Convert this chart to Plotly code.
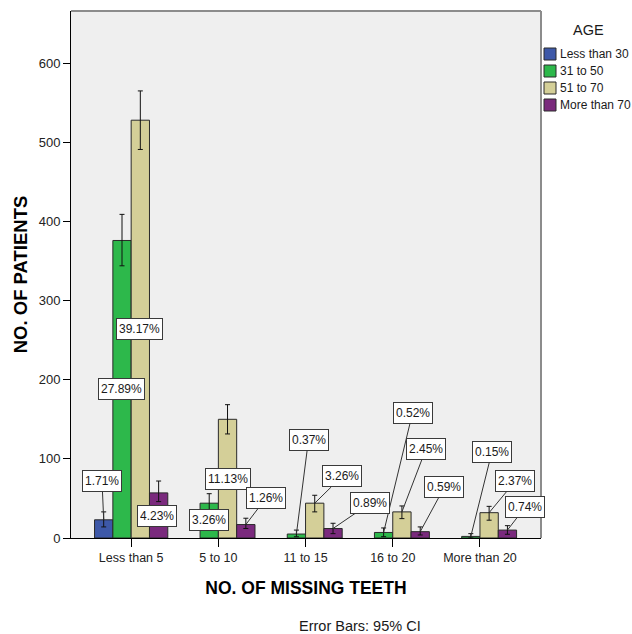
import plotly.graph_objects as go

# ---------------- data ----------------
categories = ["Less than 5", "5 to 10", "11 to 15", "16 to 20", "More than 20"]
age_groups = ["Less than 30", "31 to 50", "51 to 70", "More than 70"]

less_than_30 = [23, None, None, None, None]
age_31_50 = [376, 44, 5, 7, 2]
age_51_70 = [528, 150, 44, 33, 32]
more_than_70 = [57, 17, 12, 8, 10]

# 95% CI half-widths (upper, lower)
ci_up_lt30 = [10, None, None, None, None]
ci_dn_lt30 = [9, None, None, None, None]
ci_up_31_50 = [33, 12, 5, 5.7, 3.5]
ci_dn_31_50 = [32, 12, 3.4, 5.3, 2]
ci_up_51_70 = [37, 18.5, 10, 7.5, 8]
ci_dn_51_70 = [37, 18.5, 11, 8.5, 9.5]
ci_up_gt70 = [15, 8, 6.6, 6, 5.6]
ci_dn_gt70 = [11, 5, 6.5, 4.2, 5.3]

y_ticks = [0, 100, 200, 300, 400, 500, 600]

series_values = [less_than_30, age_31_50, age_51_70, more_than_70]
series_up = [ci_up_lt30, ci_up_31_50, ci_up_51_70, ci_up_gt70]
series_dn = [ci_dn_lt30, ci_dn_31_50, ci_dn_51_70, ci_dn_gt70]

# ---------------- style / layout ----------------
colors = ["#3D58A8", "#2DB84B", "#D4CF98", "#7A2A7D"]
FONT = "Liberation Sans, Arial, sans-serif"
BARGAP = 0.16

# label box placement: pixel offset of box centre from bar top, and leader flag
label_place = [
    [(-1.7, -38.8, True), None, None, None, None],
    [(-1, 148.4, False), (0, 16.8, False), (12.1, -94.5, True), (28.9, -119.5, True), (21.2, -84.9, True)],
    [(-0.4, 208.6, False), (0.4, 59.6, False), (27.2, -26.7, True), (24, -62.9, True), (26.3, -31.7, True)],
    [(-1.2, 22.6, False), (20.6, -27, True), (37.4, -25.5, True), (24.2, -44.7, True), (17.5, -22.6, True)],
]

total = sum(v for s in series_values for v in s if v is not None)

fig = go.Figure()
for name, vals, up, dn, col in zip(age_groups, series_values, series_up, series_dn, colors):
    fig.add_trace(go.Bar(
        name=name, x=categories, y=vals,
        marker=dict(color=col, line=dict(color="#2a2a2a", width=1)),
        error_y=dict(type="data", symmetric=False, array=up, arrayminus=dn,
                     color="#111111", thickness=1, width=2.5),
        showlegend=False,
    ))

annotations = []
slot = (1 - BARGAP) / len(age_groups)
for j, (vals, places) in enumerate(zip(series_values, label_place)):
    for i, (v, p) in enumerate(zip(vals, places)):
        if v is None or p is None:
            continue
        dx, dy, leader = p
        xpos = i + (j - (len(age_groups) - 1) / 2) * slot
        txt = f"{100 * v / total:.2f}%"
        common = dict(x=xpos, y=v, xref="x", yref="y", text=txt, height=16,
                      font=dict(family=FONT, size=12, color="#1a1a1a"),
                      bgcolor="white", bordercolor="#3a3a3a", borderwidth=1, borderpad=2)
        if leader:
            annotations.append(dict(**common, showarrow=True, ax=dx, ay=dy,
                                    arrowhead=0, arrowwidth=1, arrowcolor="#333333", standoff=0))
        else:
            annotations.append(dict(**common, showarrow=False, xanchor="center", yanchor="middle",
                                    xshift=dx, yshift=-dy))

# manual legend (outside plot on the right)
L, R, T, B = 71, 91, 11, 96
W, H = 632, 634
pw, ph = W - L - R, H - T - B

def px_x(px):
    return (px - L) / pw

def px_y(py):
    return (T + ph - py) / ph

shapes = [
    dict(type="line", xref="paper", yref="paper", x0=0, x1=1, y0=1, y1=1,
         line=dict(color="#8c8c8c", width=2), layer="below"),
    dict(type="line", xref="paper", yref="paper", x0=1, x1=1, y0=0, y1=1,
         line=dict(color="#8c8c8c", width=2), layer="below"),
]
annotations.append(dict(x=px_x(588), y=px_y(30), xref="paper", yref="paper", text="AGE",
                        xanchor="center", yanchor="middle", showarrow=False,
                        font=dict(family=FONT, size=14.5, color="#1a1a1a")))
for k, (name, col) in enumerate(zip(age_groups, colors)):
    cy = 54 + k * 17
    shapes.append(dict(type="rect", xref="paper", yref="paper",
                       x0=px_x(544), x1=px_x(556), y0=px_y(cy + 6), y1=px_y(cy - 6),
                       fillcolor=col, line=dict(color="#2a2a2a", width=1)))
    annotations.append(dict(x=px_x(558), y=px_y(cy), xref="paper", yref="paper", text=name,
                            xanchor="left", yanchor="middle", showarrow=False,
                            font=dict(family=FONT, size=12, color="#1a1a1a")))

annotations.append(dict(x=px_x(360), y=px_y(626), xref="paper", yref="paper",
                        text="Error Bars: 95% CI", xanchor="center", yanchor="middle",
                        showarrow=False,
                        font=dict(family=FONT, size=14.5, color="#1a1a1a")))

fig.update_layout(
    width=W, height=H,
    margin=dict(l=L, r=R, t=T, b=B, pad=0),
    paper_bgcolor="white", plot_bgcolor="#EFEFEF",
    barmode="group", bargap=BARGAP, bargroupgap=0,
    font=dict(family=FONT, color="#1a1a1a"),
    annotations=annotations, shapes=shapes,
    xaxis=dict(
        type="category", range=[-0.69, 4.70],
        showline=True, linecolor="black", linewidth=1,
        ticks="outside", ticklen=8, tickcolor="black",
        tickfont=dict(family=FONT, size=12.5, color="#222222"),
        showgrid=False, zeroline=False, automargin=False,
        title=dict(text="<b>NO. OF MISSING TEETH</b>", standoff=17,
                   font=dict(family=FONT, size=17.5, color="black")),
    ),
    yaxis=dict(
        range=[0, 666], tickvals=y_ticks,
        showline=True, linecolor="black", linewidth=1,
        ticks="outside", ticklen=7, tickcolor="black",
        tickfont=dict(family=FONT, size=13, color="#222222"),
        showgrid=False, zeroline=False, automargin=False,
        title=dict(text="<b>NO. OF PATIENTS</b>", standoff=6,
                   font=dict(family=FONT, size=18.5, color="black")),
    ),
)

fig.write_html("out.html", config={"displayModeBar": False},
               post_script="document.body.style.margin='0';")
